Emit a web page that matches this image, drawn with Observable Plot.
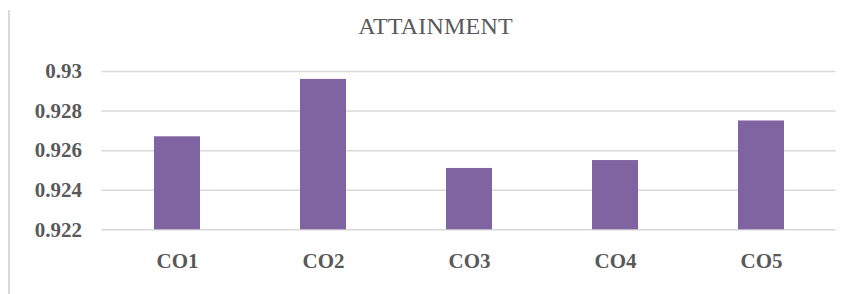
<!DOCTYPE html>
<html>
<head>
<meta charset="utf-8">
<script src="https://cdn.jsdelivr.net/npm/d3@7"></script>
<script src="https://cdn.jsdelivr.net/npm/@observablehq/plot@0.6"></script>
<style>
  html, body { margin: 0; padding: 0; background: #fff; }
  #wrap { position: relative; width: 851px; height: 294px; overflow: hidden; }
  #frame { position: absolute; left: 8px; top: 10px; width: 0; height: 300px; border-left: 2px solid #d9d9d9; }
  #title { position: absolute; left: 0; width: 871px; top: 13px; text-align: center;
           font-family: 'Liberation Serif', serif; font-size: 24px; color: #595959; letter-spacing: 0.2px; }
  #chart { position: absolute; left: 0; top: 0; }
</style>
</head>
<body>
<div id="wrap">
  <div id="frame"></div>
  <div id="chart"></div>
  <div id="title">ATTAINMENT</div>
</div>
<script>
const categories = ["CO1", "CO2", "CO3", "CO4", "CO5"];
const values = [0.9267, 0.9296, 0.9251, 0.9255, 0.9275];
const yTicks = [0.922, 0.924, 0.926, 0.928, 0.93];
const yMin = 0.922;
const yMax = 0.93;
const serif = "Liberation Serif";

const data = categories.map((c, i) => ({ category: c, value: values[i] }));

const chart = Plot.plot({
  width: 851,
  height: 294,
  marginLeft: 101.5,
  marginRight: 15.5,
  marginTop: 71,
  marginBottom: 64.7,
  style: { background: "transparent", color: "#595959", fontFamily: serif },
  x: { domain: categories, paddingInner: 0.687, paddingOuter: 0.3435, label: null },
  y: { domain: [yMin, yMax], ticks: yTicks, label: null },
  marks: [
    Plot.gridY(yTicks, { stroke: "#d9d9d9", strokeOpacity: 1, strokeWidth: 1.5 }),
    Plot.barY(data, { x: "category", y1: () => yMin, y2: "value", fill: "#8064a2" }),
    Plot.axisY(yTicks, { tickSize: 0, tickPadding: 20, fontSize: 21, fontWeight: "bold", fontFamily: serif, tickFormat: d => String(d), fill: "#595959" }),
    Plot.axisX({ tickSize: 0, tickPadding: 23, fontSize: 21, fontWeight: "bold", fontFamily: serif, fill: "#595959" })
  ]
});
document.getElementById("chart").appendChild(chart);
</script>
</body>
</html>
